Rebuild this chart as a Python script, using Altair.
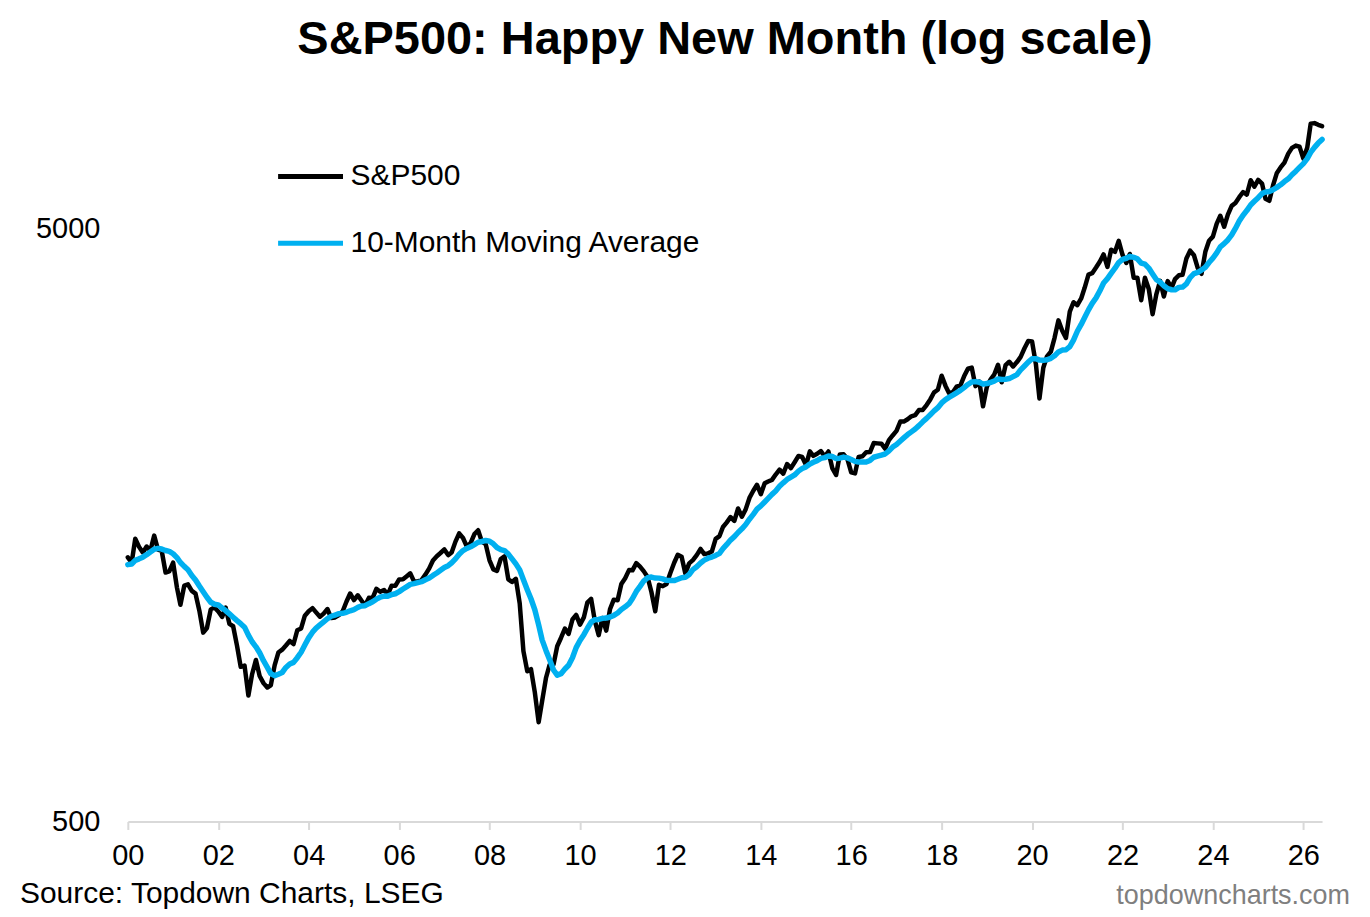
import altair as alt
import pandas as pd

# S&P500 monthly closes. Apr-Dec 1999 only feed the 10-month average.
spx_1999 = [1335.18, 1301.84, 1372.71, 1328.72, 1320.41, 1282.71, 1362.93, 1388.91, 1469.25]
spx_2000 = [1394.46, 1366.42, 1498.58, 1452.43, 1420.60, 1454.60, 1430.83, 1517.68, 1436.51, 1429.40, 1314.95, 1320.28]
spx_2001 = [1366.01, 1239.94, 1160.33, 1249.46, 1255.82, 1224.42, 1211.23, 1133.58, 1040.94, 1059.78, 1139.45, 1148.08]
spx_2002 = [1130.20, 1106.73, 1147.39, 1076.92, 1067.14, 989.82, 911.62, 916.07, 815.28, 885.76, 936.31, 879.82]
spx_2003 = [855.70, 841.15, 848.18, 916.92, 963.59, 974.50, 990.31, 1008.01, 995.97, 1050.71, 1058.20, 1111.92]
spx_2004 = [1131.13, 1144.94, 1126.21, 1107.30, 1120.68, 1140.84, 1101.72, 1104.24, 1114.58, 1130.20, 1173.82, 1211.92]
spx_2005 = [1181.27, 1203.60, 1180.59, 1156.85, 1191.50, 1191.33, 1234.18, 1220.33, 1228.81, 1207.01, 1249.48, 1248.29]
spx_2006 = [1280.08, 1280.66, 1294.83, 1310.61, 1270.09, 1270.20, 1276.66, 1303.82, 1335.85, 1377.94, 1400.63, 1418.30]
spx_2007 = [1438.24, 1406.82, 1420.86, 1482.37, 1530.62, 1503.35, 1455.27, 1473.99, 1526.75, 1549.38, 1481.14, 1468.36]
spx_2008 = [1378.55, 1330.63, 1322.70, 1385.59, 1400.38, 1280.00, 1267.38, 1282.83, 1166.36, 968.75, 896.24, 903.25]
spx_2009 = [825.88, 735.09, 797.87, 872.81, 919.14, 919.32, 987.48, 1020.62, 1057.08, 1036.19, 1095.63, 1115.10]
spx_2010 = [1073.87, 1104.49, 1169.43, 1186.69, 1089.41, 1030.71, 1101.60, 1049.33, 1141.20, 1183.26, 1180.55, 1257.64]
spx_2011 = [1286.12, 1327.22, 1325.83, 1363.61, 1345.20, 1320.64, 1292.28, 1218.89, 1131.42, 1253.30, 1246.96, 1257.60]
spx_2012 = [1312.41, 1365.68, 1408.47, 1397.91, 1310.33, 1362.16, 1379.32, 1406.58, 1440.67, 1412.16, 1416.18, 1426.19]
spx_2013 = [1498.11, 1514.68, 1569.19, 1597.57, 1630.74, 1606.28, 1685.73, 1632.97, 1681.55, 1756.54, 1805.81, 1848.36]
spx_2014 = [1782.59, 1859.45, 1872.34, 1883.95, 1923.57, 1960.23, 1930.67, 2003.37, 1972.29, 2018.05, 2067.56, 2058.90]
spx_2015 = [1994.99, 2104.50, 2067.89, 2085.51, 2107.39, 2063.11, 2103.84, 1972.18, 1920.03, 2079.36, 2080.41, 2043.94]
spx_2016 = [1940.24, 1932.23, 2059.74, 2065.30, 2096.95, 2098.86, 2173.60, 2170.95, 2168.27, 2126.15, 2198.81, 2238.83]
spx_2017 = [2278.87, 2363.64, 2362.72, 2384.20, 2411.80, 2423.41, 2470.30, 2471.65, 2519.36, 2575.26, 2647.58, 2673.61]
spx_2018 = [2823.81, 2713.83, 2640.87, 2648.05, 2705.27, 2718.37, 2816.29, 2901.52, 2913.98, 2711.74, 2760.17, 2506.85]
spx_2019 = [2704.10, 2784.49, 2834.40, 2945.83, 2752.06, 2941.76, 2980.38, 2926.46, 2976.74, 3037.56, 3140.98, 3230.78]
spx_2020 = [3225.52, 2954.22, 2584.59, 2912.43, 3044.31, 3100.29, 3271.12, 3500.31, 3363.00, 3269.96, 3621.63, 3756.07]
spx_2021 = [3714.24, 3811.15, 3972.89, 4181.17, 4204.11, 4297.50, 4395.26, 4522.68, 4307.54, 4605.38, 4567.00, 4766.18]
spx_2022 = [4515.55, 4373.94, 4530.41, 4131.93, 4132.15, 3785.38, 4130.29, 3955.00, 3585.62, 3871.98, 4080.11, 3839.50]
spx_2023 = [4076.60, 3970.15, 4109.31, 4169.48, 4179.83, 4450.38, 4588.96, 4507.66, 4288.05, 4193.80, 4567.80, 4769.83]
spx_2024 = [4845.65, 5096.27, 5254.35, 5035.69, 5277.51, 5460.48, 5522.30, 5648.40, 5762.48, 5705.45, 6032.38, 5881.63]
spx_2025 = [6040.53, 5954.50, 5611.85, 5569.06, 5911.69, 6204.95, 6339.39, 6460.26, 6688.46, 6840.20, 6900.0, 6870.0]
spx_2026 = [6560.0, 6840.0, 7510.0, 7530.0, 7480.0, 7440.0]

spx = (spx_1999 + spx_2000 + spx_2001 + spx_2002 + spx_2003 + spx_2004 + spx_2005
       + spx_2006 + spx_2007 + spx_2008 + spx_2009 + spx_2010 + spx_2011 + spx_2012
       + spx_2013 + spx_2014 + spx_2015 + spx_2016 + spx_2017 + spx_2018 + spx_2019
       + spx_2020 + spx_2021 + spx_2022 + spx_2023 + spx_2024 + spx_2025 + spx_2026)
dates = pd.date_range("1999-04-01", periods=len(spx), freq="MS")

series_names = ["S&P500", "10-Month Moving Average"]
series_colors = ["#000000", "#00b0f0"]
year_ticks = list(range(2000, 2027, 2))
y_ticks = [500, 5000]

title_text = "S&P500: Happy New Month (log scale)"
source_text = "Source: Topdown Charts, LSEG"
site_text = "topdowncharts.com"

FONT = "Liberation Sans"

df = pd.DataFrame({"date": dates, "spx": spx, "n": range(len(spx))})

base = alt.Chart(df).transform_window(
    ma="mean(spx)", frame=[-9, 0], sort=[alt.SortField("n")]
).transform_filter(
    "datum.n >= 9"
).transform_fold(
    ["spx", "ma"], as_=["key", "value"]
).transform_calculate(
    series="datum.key == 'spx' ? 'S&P500' : '10-Month Moving Average'"
)

enc = dict(
    x=alt.X("date:T",
            scale=alt.Scale(domain=[alt.DateTime(year=2000, month=1, date=1),
                                    alt.DateTime(year=2026, month=6, date=1)]),
            axis=alt.Axis(title=None, grid=False, format="%y",
                          values=[alt.DateTime(year=y, month=1, date=1) for y in year_ticks],
                          domainColor="#d9d9d9", domainWidth=2,
                          tickColor="#d9d9d9", tickWidth=2, tickSize=8,
                          labelFlush=False, labelOverlap=False,
                          labelFontSize=29, labelPadding=12, labelColor="black",
                          labelFont=FONT)),
    y=alt.Y("value:Q",
            scale=alt.Scale(type="log", domain=[500, 8000]),
            axis=alt.Axis(title=None, grid=False, domain=False, ticks=False,
                          values=y_ticks, format="d",
                          labelFontSize=29, labelPadding=28, labelColor="black",
                          labelFont=FONT)),
    color=alt.Color("series:N",
                    scale=alt.Scale(domain=series_names, range=series_colors),
                    legend=alt.Legend(title=None, orient="none", direction="vertical",
                                      legendX=148, legendY=34,
                                      symbolType="stroke", symbolSize=4225,
                                      symbolStrokeWidth=5, labelFontSize=30,
                                      labelFont=FONT, labelColor="black",
                                      labelLimit=600, labelOffset=5, rowPadding=17)),
)

spx_line = base.transform_filter("datum.key == 'spx'").mark_line(
    strokeWidth=4.5, strokeJoin="round", strokeCap="round"
).encode(**enc)

ma_line = base.transform_filter("datum.key == 'ma'").mark_line(
    strokeWidth=5.5, strokeJoin="round", strokeCap="round"
).encode(**enc)

source = alt.Chart(pd.DataFrame({"t": [source_text]})).mark_text(
    align="left", baseline="alphabetic", fontSize=30, font=FONT, color="black"
).encode(text="t:N", x=alt.value(-108), y=alt.value(797))

site = alt.Chart(pd.DataFrame({"t": [site_text]})).mark_text(
    align="right", baseline="alphabetic", fontSize=27, font=FONT, color="#7f7f7f"
).encode(text="t:N", x=alt.value(1224), y=alt.value(798))

chart = alt.layer(spx_line, ma_line, source, site).properties(
    width=1196,
    height=715,
    autosize="none",
    padding={"left": 120, "top": 99, "right": 40, "bottom": 96},
    title=alt.TitleParams(title_text, fontSize=47, fontWeight="bold", font=FONT,
                          anchor="middle", offset=44, color="black"),
    background="white",
).configure_view(
    strokeWidth=0
)

chart.save("out.html", embed_options={"renderer": "svg", "actions": False})
